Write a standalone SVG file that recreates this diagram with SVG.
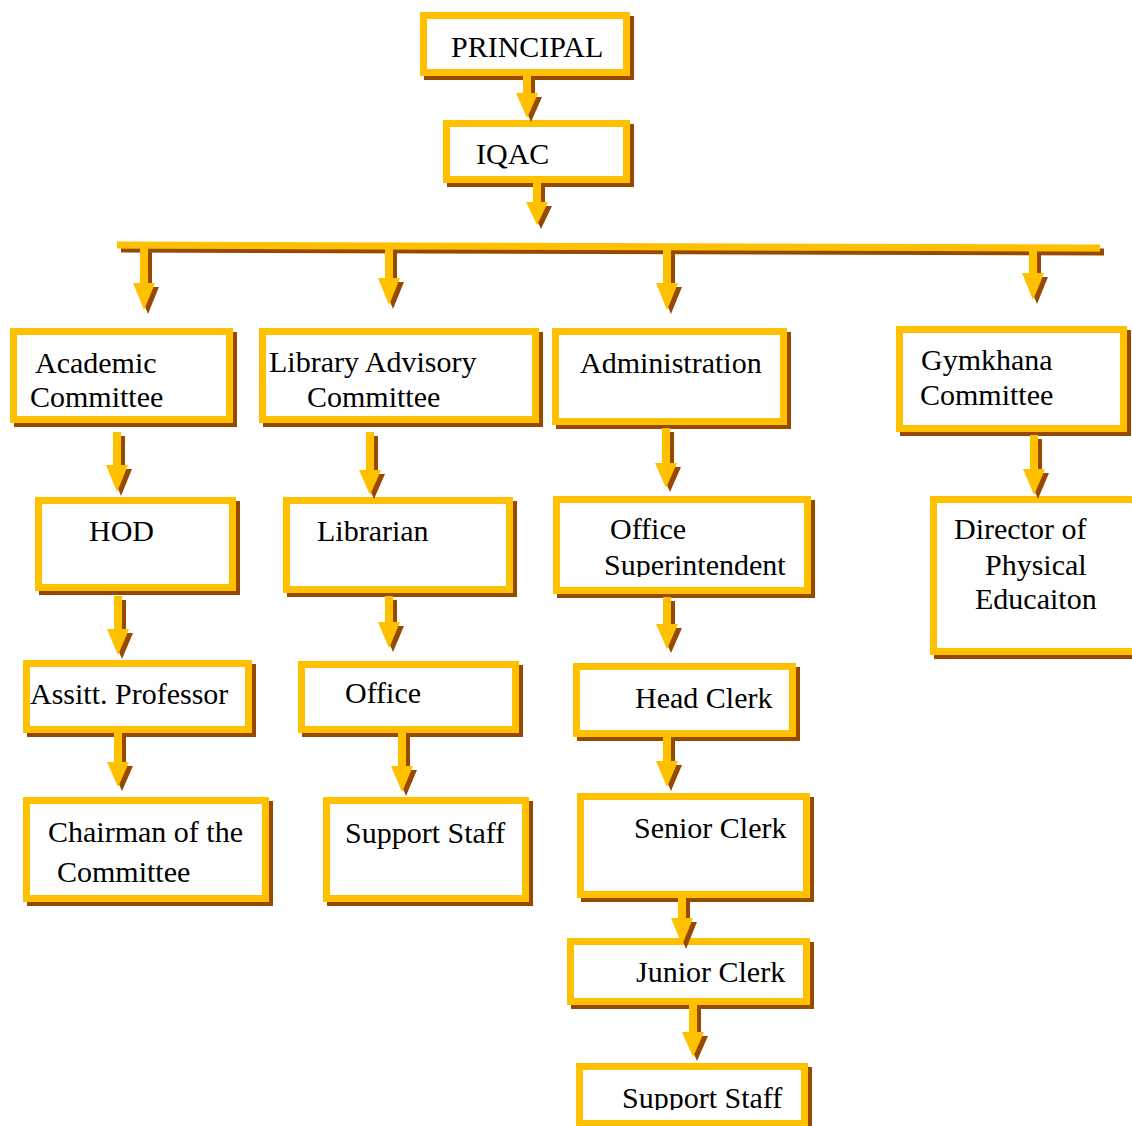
<svg xmlns="http://www.w3.org/2000/svg" width="1132" height="1126" viewBox="0 0 1132 1126">
<style>
.box{fill:#fff;stroke:#FFC000;stroke-width:7;filter:url(#sh)}
.t{font-family:"Liberation Serif","Times New Roman",serif;font-size:30px;fill:#000}
.arr{fill:#FFC000;filter:url(#sh)}
</style>
<defs>
<filter id="sh" filterUnits="userSpaceOnUse" x="0" y="0" width="1132" height="1126">
<feFlood flood-color="#984806"/>
<feComposite in2="SourceAlpha" operator="in"/>
<feOffset dx="4" dy="4"/>
<feMerge><feMergeNode/><feMergeNode in="SourceGraphic"/></feMerge>
</filter>
<clipPath id="c1"><rect x="560" y="500" width="250" height="77"/></clipPath>
<clipPath id="c2"><rect x="580" y="1066" width="226" height="44"/></clipPath>
</defs>
<rect width="1132" height="1126" fill="#fff"/>
<g id="principal"><rect class="box" x="423.5" y="15.5" width="203" height="57"/><text class="t" x="451" y="57">PRINCIPAL</text></g>
<g id="iqac"><rect class="box" x="446.5" y="123.5" width="180" height="56"/><text class="t" x="476" y="164">IQAC</text></g>
<g id="academic"><rect class="box" x="13.5" y="331.5" width="216" height="88"/><text class="t" x="35" y="373">Academic</text><text class="t" x="30" y="407">Committee</text></g>
<g id="library"><rect class="box" x="262.5" y="331.5" width="273" height="88"/><text class="t" x="269" y="372">Library Advisory</text><text class="t" x="307" y="407">Committee</text></g>
<g id="administration"><rect class="box" x="555.5" y="331.5" width="228" height="90"/><text class="t" x="580" y="373">Administration</text></g>
<g id="gymkhana"><rect class="box" x="899.5" y="329.5" width="224" height="99"/><text class="t" x="921" y="370">Gymkhana</text><text class="t" x="920" y="405">Committee</text></g>
<g id="hod"><rect class="box" x="38.5" y="500.5" width="194" height="87"/><text class="t" x="89" y="541">HOD</text></g>
<g id="librarian"><rect class="box" x="286.5" y="500.5" width="223" height="89"/><text class="t" x="317" y="541">Librarian</text></g>
<g id="office-superintendent"><rect class="box" x="556.5" y="499.5" width="251" height="91"/><text class="t" x="610" y="539">Office</text><text class="t" x="604" y="575" clip-path="url(#c1)">Superintendent</text></g>
<g id="director"><rect class="box" x="933.5" y="499.5" width="210" height="152"/><text class="t" x="954" y="539">Director of</text><text class="t" x="985" y="575">Physical</text><text class="t" x="975" y="609">Educaiton</text></g>
<g id="assitt-professor"><rect class="box" x="26.5" y="663.5" width="222" height="66"/><text class="t" x="30" y="704">Assitt. Professor</text></g>
<g id="office"><rect class="box" x="301.5" y="664.5" width="214" height="65"/><text class="t" x="345" y="703">Office</text></g>
<g id="head-clerk"><rect class="box" x="576.5" y="666.5" width="216" height="67"/><text class="t" x="635" y="708">Head Clerk</text></g>
<g id="chairman"><rect class="box" x="26.5" y="800.5" width="239" height="98"/><text class="t" x="48" y="842">Chairman of the</text><text class="t" x="57" y="882">Committee</text></g>
<g id="support-staff-1"><rect class="box" x="326.5" y="800.5" width="199" height="98"/><text class="t" x="345" y="843">Support Staff</text></g>
<g id="senior-clerk"><rect class="box" x="580.5" y="796.5" width="226" height="98"/><text class="t" x="634" y="838">Senior Clerk</text></g>
<g id="junior-clerk"><rect class="box" x="570.5" y="941.5" width="236" height="60"/><text class="t" x="636" y="982">Junior Clerk</text></g>
<g id="support-staff-2"><rect class="box" x="579.5" y="1066.5" width="225" height="57"/><text class="t" x="622" y="1108" clip-path="url(#c2)">Support Staff</text></g>
<g id="connectors">
<polygon class="arr" points="117,241.5 1100,244.5 1100,251.5 117,248.5"/>
<path class="arr" d="M523 76H531V93H538L527 118L516 93H523Z"/>
<path class="arr" d="M533 183H541V202H548L537 225L526 202H533Z"/>
<path class="arr" d="M140 248H148V283H155L144 310L133 283H140Z"/>
<path class="arr" d="M385 248H393V278H400L389 305L378 278H385Z"/>
<path class="arr" d="M663 248H671V283H678L667 310L656 283H663Z"/>
<path class="arr" d="M1029 248H1037V273H1044L1033 300L1022 273H1029Z"/>
<path class="arr" d="M113 432H121V465H128L117 492L106 465H113Z"/>
<path class="arr" d="M366 432H374V470H381L370 495L359 470H366Z"/>
<path class="arr" d="M662 428H670V463H677L666 488L655 463H662Z"/>
<path class="arr" d="M1030 435H1038V469H1045L1034 495L1023 469H1030Z"/>
<path class="arr" d="M114 596H122V629H129L118 655L107 629H114Z"/>
<path class="arr" d="M385 596H393V622H400L389 648L378 622H385Z"/>
<path class="arr" d="M663 597H671V624H678L667 649L656 624H663Z"/>
<path class="arr" d="M114 733H122V762H129L118 787L107 762H114Z"/>
<path class="arr" d="M398 733H406V766H413L402 792L391 766H398Z"/>
<path class="arr" d="M663 737H671V761H678L667 787L656 761H663Z"/>
<path class="arr" d="M678 898H686V918H693L682 945L671 918H678Z"/>
<path class="arr" d="M689 1005H697V1032H704L693 1057L682 1032H689Z"/>
</g>
</svg>
